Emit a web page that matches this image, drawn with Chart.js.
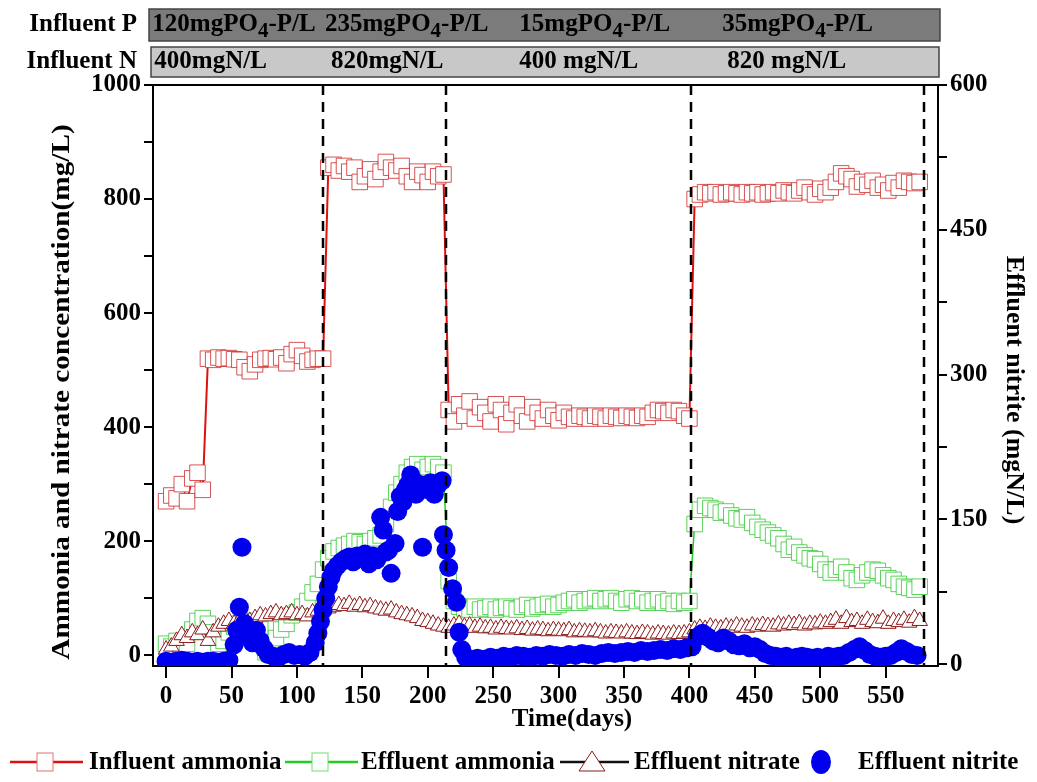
<!DOCTYPE html>
<html>
<head>
<meta charset="utf-8">
<script src="https://cdn.jsdelivr.net/npm/chart.js@4.4.1/dist/chart.umd.min.js"></script>
<style>
  html, body { margin: 0; padding: 0; background: #fff; }
  canvas { display: block; }
</style>
</head>
<body>
<canvas id="reactorChart" width="1037" height="782"></canvas>
<script>
// sampling days shared by the ammonia / nitrate series
var days = [
  0, 4, 8, 12, 16, 20, 24, 28, 32, 36,
  40, 44, 48, 52, 56, 60, 64, 68, 72, 76,
  80, 84, 88, 92, 96, 100, 104, 108, 112, 116,
  120, 124, 128, 132, 136, 140, 144, 148, 152, 156,
  160, 164, 168, 172, 176, 180, 184, 188, 192, 196,
  200, 204, 208, 212, 216, 220, 224, 228, 232, 236,
  240, 244, 248, 252, 256, 260, 264, 268, 272, 276,
  280, 284, 288, 292, 296, 300, 304, 308, 312, 316,
  320, 324, 328, 332, 336, 340, 344, 348, 352, 356,
  360, 364, 368, 372, 376, 380, 384, 388, 392, 396,
  400, 404, 408, 412, 416, 420, 424, 428, 432, 436,
  440, 444, 448, 452, 456, 460, 464, 468, 472, 476,
  480, 484, 488, 492, 496, 500, 504, 508, 512, 516,
  520, 524, 528, 532, 536, 540, 544, 548, 552, 556,
  560, 564, 568, 572, 576
];

var influentAmmonia = [
  270, 280, 275, 300, 270, 310, 320, 290, 520, 518,
  522, 520, 521, 519, 518, 505, 498, 510, 518, 520,
  521, 519, 522, 512, 528, 535, 525, 515, 518, 520,
  520, 855, 860, 850, 858, 848, 855, 830, 840, 852,
  835, 848, 865, 855, 850, 858, 840, 830, 848, 842,
  830, 848, 840, 843, 430, 410, 440, 420, 445, 415,
  435, 425, 410, 440, 430, 405, 425, 440, 420, 410,
  435, 425, 415, 430, 420, 412, 425, 418, 415, 420,
  418, 415, 420, 418, 415, 420, 418, 416, 420, 418,
  416, 420, 418, 425, 430, 428, 425, 430, 428, 420,
  415, 800, 808, 812, 810, 812, 808, 810, 812, 810,
  808, 812, 810, 812, 808, 810, 812, 810, 815, 812,
  810, 815, 820, 812, 808, 818, 812, 820, 830, 845,
  840, 835, 822, 830, 825, 832, 820, 825, 815, 828,
  820, 832, 830, 828, 830
];

var effluentAmmonia = [
  20, 15, 25, 10, 20, 45, 60, 65, 55, 40,
  20, 25, 40, 50, 55, 50, 60, 55, 45, 5,
  10, 30, 45, 55, 70, 75, 85, 95, 110, 125,
  150, 170, 182, 188, 192, 195, 200, 198, 195, 200,
  205, 210, 230, 260, 285, 300, 320, 330, 335, 325,
  330, 335, 330, 320, 130, 95, 85, 82, 80, 85,
  80, 82, 85, 80, 83, 85, 82, 80, 85, 88,
  82, 85, 88, 90, 85, 88, 92, 95, 98, 92,
  95, 98, 100, 95, 98, 100, 95, 92, 98, 100,
  95, 98, 92, 95, 98, 92, 95, 90, 95, 92,
  95, 230, 255, 262, 258, 255, 250, 252, 245, 240,
  238, 242, 232, 225, 220, 215, 210, 205, 195, 185,
  190, 180, 175, 170, 168, 160, 150, 145, 150, 155,
  145, 135, 132, 140, 145, 150, 148, 140, 135, 132,
  125, 120, 118, 115, 120
];

var effluentNitrate = [
  10, 15, 25, 35, 30, 40, 35, 45, 25, 40,
  50, 55, 60, 55, 60, 65, 60, 65, 70, 68,
  72, 75, 70, 72, 75, 70, 72, 68, 75, 78,
  80, 82, 85, 88, 86, 90, 85, 88, 84, 86,
  82, 80, 78, 80, 75, 72, 70, 68, 65, 60,
  58, 55, 52, 50, 48, 52, 55, 50, 52, 48,
  50, 47, 48, 45, 48, 46, 45, 47, 44, 46,
  43, 45, 44, 42, 44, 43, 42, 44, 40, 42,
  41, 40, 42, 40, 38, 40, 39, 38, 40, 38,
  37, 39, 38, 36, 38, 37, 36, 38, 37, 38,
  40, 45, 48, 46, 50, 48, 47, 50, 48, 52,
  50, 48, 52, 50, 53, 51, 50, 54, 52, 55,
  53, 56, 52, 55, 54, 57, 55, 58, 62, 55,
  65, 58, 60, 55, 62, 58, 56, 64, 55, 60,
  58, 62, 57, 65, 60
];

// effluent nitrite is on its own sampling days (right axis)
var nitriteDays = [
  0, 4, 8, 12, 16, 20, 24, 28, 32, 36, 40, 44, 48,
  52, 54, 56, 58, 60, 63, 66, 69, 72, 75, 78, 82, 86, 90, 94, 98,
  102, 106, 110, 114, 116, 118, 120, 122, 124, 126, 128,
  131, 134, 137, 140, 143, 146, 149, 152, 155, 158, 161,
  164, 166, 168, 170, 172, 175, 177, 179, 181, 183, 185, 187, 189, 191,
  194, 196, 199, 202, 205, 208, 211, 212, 214, 216, 219, 222, 224, 226, 229,
  233, 238, 243, 248, 253, 258, 263, 268, 273, 278, 283, 288, 293, 298,
  303, 308, 313, 318, 323, 328, 333, 338, 343, 348, 353, 358, 363, 368,
  373, 378, 383, 388, 393, 398, 402, 406, 410, 414, 418, 422, 426, 430,
  434, 438, 442, 446, 450, 454, 458, 462, 466, 470, 474, 478, 482, 486,
  490, 494, 498, 502, 506, 510, 514, 518, 522, 526, 530, 534, 538, 542,
  546, 550, 554, 558, 562, 566, 570, 574
];
var effluentNitrite = [
  3, 2, 3, 4, 3, 2, 3, 2, 3, 3, 2, 3, 4,
  20, 35, 59, 121, 42, 28, 22, 35, 24, 16, 10, 8, 7, 10, 12, 9,
  10, 8, 12, 22, 32, 44, 56, 68, 80, 90, 97,
  102, 106, 109, 111, 106, 112, 110, 114, 104, 112, 108,
  152, 139, 116, 118, 94, 125, 158, 174, 168, 181, 186, 196, 190, 176,
  186, 121, 181, 188, 176, 186, 190, 134, 118, 100, 78, 64, 33, 15, 7,
  5, 6, 5, 7, 6, 8, 7, 9, 8, 7, 9, 8, 10, 9,
  8, 10, 9, 11, 10, 9, 11, 12, 11, 12, 13, 12, 14, 13,
  14, 15, 14, 16, 15, 17, 18, 28, 32, 28, 24, 22, 27, 24,
  20, 19, 21, 17, 18, 15, 11, 9, 8, 7, 8, 6, 7, 8,
  7, 6, 7, 6, 8, 7, 8, 9, 12, 15, 18, 14, 10, 8,
  7, 8, 9, 12, 16, 13, 10, 9
];

var xTicks = [0, 50, 100, 150, 200, 250, 300, 350, 400, 450, 500, 550];
var leftTicks = [0, 100, 200, 300, 400, 500, 600, 700, 800, 900, 1000];
var rightTicks = [0, 75, 150, 225, 300, 375, 450, 525, 600];

// phase boundaries (dashed lines) and the influent conditions above the plot
var phaseDays = [120, 214, 401, 579];
var influentP = [['120mgPO', '4', '-P/L'], ['235mgPO', '4', '-P/L'], ['15mgPO', '4', '-P/L'], ['35mgPO', '4', '-P/L']];
var influentN = ['400mgN/L', '820mgN/L', '400 mgN/L', '820 mgN/L'];
var legendLabels = ['Influent ammonia', 'Effluent ammonia', 'Effluent nitrate', 'Effluent nitrite'];

var SERIF = '"Liberation Serif", "Times New Roman", serif';
function bold(size) { return 'bold ' + size + 'px ' + SERIF; }

function toPoints(xs, ys) {
  return xs.map(function(x, i) { return { x: x, y: ys[i] }; });
}

// vertical axis titles, slightly stretched along the text like the original
function verticalTitle(ctx, text, x, y, rot, stretch) {
  ctx.save();
  ctx.translate(x, y);
  ctx.rotate(rot);
  ctx.scale(stretch, 1);
  ctx.textAlign = 'center';
  ctx.textBaseline = 'middle';
  ctx.fillText(text, 0, 0);
  ctx.restore();
}

var decorations = {
  id: 'decorations',
  afterDatasetsDraw: function(chart) {
    var ctx = chart.ctx, area = chart.chartArea, xs = chart.scales.x;
    ctx.save();
    ctx.strokeStyle = '#000';
    ctx.lineWidth = 2.5;
    ctx.setLineDash([10, 7]);
    phaseDays.forEach(function(d) {
      var px = Math.round(xs.getPixelForValue(d));
      ctx.beginPath();
      ctx.moveTo(px, area.top);
      ctx.lineTo(px, area.bottom);
      ctx.stroke();
    });
    ctx.setLineDash([]);
    ctx.lineWidth = 2;
    ctx.beginPath();
    ctx.moveTo(area.left, area.top);
    ctx.lineTo(area.right, area.top);
    ctx.stroke();
    ctx.restore();
  },
  afterDraw: function(chart) {
    var ctx = chart.ctx, area = chart.chartArea, xs = chart.scales.x;
    ctx.save();

    // influent condition boxes
    ctx.lineWidth = 1.5;
    ctx.fillStyle = '#7b7b7b';
    ctx.strokeStyle = '#444';
    ctx.fillRect(area.left - 4, 9, area.right - area.left + 6, 32);
    ctx.strokeRect(area.left - 4, 9, area.right - area.left + 6, 32);
    ctx.fillStyle = '#c8c8c8';
    ctx.fillRect(area.left - 2, 47, area.right - area.left + 3, 30);
    ctx.strokeRect(area.left - 2, 47, area.right - area.left + 3, 30);

    ctx.fillStyle = '#000';
    ctx.textBaseline = 'alphabetic';
    ctx.textAlign = 'right';
    ctx.font = bold(25);
    ctx.fillText('Influent P', 137, 31);
    ctx.fillText('Influent N', 137, 68);

    ctx.textAlign = 'left';
    var pAt = [-10.5, 121.5, 270, 425];
    influentP.forEach(function(parts, i) {
      var px = xs.getPixelForValue(pAt[i]);
      ctx.font = bold(25);
      ctx.fillText(parts[0], px, 31);
      px += ctx.measureText(parts[0]).width;
      ctx.font = bold(21);
      ctx.fillText(parts[1], px, 37);
      px += ctx.measureText(parts[1]).width;
      ctx.font = bold(25);
      ctx.fillText(parts[2], px, 31);
    });
    var nAt = [-9, 126, 270, 429];
    ctx.font = bold(25);
    influentN.forEach(function(t, i) {
      ctx.fillText(t, xs.getPixelForValue(nAt[i]), 68);
    });

    // axis titles
    ctx.font = bold(25);
    verticalTitle(ctx, 'Ammonia and nitrate concentration(mg/L)', 63, 392, -Math.PI / 2, 1.17);
    verticalTitle(ctx, 'Effluent nitrite (mgN/L)', 1013, 390, Math.PI / 2, 1.04);
    ctx.textAlign = 'center';
    ctx.textBaseline = 'middle';
    ctx.fillText('Time(days)', 572, 720);

    // legend row
    var ly = 762;
    ctx.lineWidth = 2.5;
    function seg(x1, x2, color) {
      ctx.strokeStyle = color;
      ctx.beginPath(); ctx.moveTo(x1, ly); ctx.lineTo(x2, ly); ctx.stroke();
    }
    seg(10, 83, '#e01010');
    seg(285, 358, '#22cc22');
    seg(560, 629, '#111');
    ctx.lineWidth = 1;
    ctx.fillStyle = '#fff';
    ctx.strokeStyle = '#e07070';
    ctx.fillRect(37, ly - 9, 16, 18); ctx.strokeRect(37, ly - 9, 16, 18);
    ctx.strokeStyle = '#70dd70';
    ctx.fillRect(312, ly - 9, 16, 18); ctx.strokeRect(312, ly - 9, 16, 18);
    ctx.strokeStyle = '#8b1a1a';
    ctx.beginPath();
    ctx.moveTo(592, ly - 11); ctx.lineTo(605, ly + 9); ctx.lineTo(579, ly + 9); ctx.closePath();
    ctx.fill(); ctx.stroke();
    ctx.fillStyle = '#0000ee';
    ctx.beginPath(); ctx.ellipse(821, ly, 10, 12, 0, 0, Math.PI * 2); ctx.fill();

    ctx.fillStyle = '#000';
    ctx.font = bold(25);
    ctx.textAlign = 'left';
    ctx.textBaseline = 'middle';
    var lx = [89, 361, 634, 858];
    legendLabels.forEach(function(t, i) { ctx.fillText(t, lx[i], ly + 1); });
    ctx.restore();
  }
};

var tickFont = { family: SERIF, size: 25, weight: 'bold' };
var axisGrid = { drawOnChartArea: false, color: '#000', lineWidth: 2, tickLength: 9 };
var axisBorder = { display: true, color: '#000', width: 2 };

var ctx = document.getElementById('reactorChart').getContext('2d');
var reactorChart = new Chart(ctx, {
  type: 'line',
  data: {
    datasets: [{
      label: legendLabels[0],
      data: toPoints(days, influentAmmonia),
      yAxisID: 'y',
      borderColor: '#e01010',
      borderWidth: 2,
      pointStyle: 'rect',
      pointRadius: 11,
      pointBorderWidth: 1,
      pointBorderColor: 'rgba(205, 40, 40, 0.8)',
      pointBackgroundColor: '#fff',
      order: 3
    }, {
      label: legendLabels[1],
      data: toPoints(days, effluentAmmonia),
      yAxisID: 'y',
      borderColor: '#22cc22',
      borderWidth: 1.5,
      pointStyle: 'rect',
      pointRadius: 11,
      pointBorderWidth: 1,
      pointBorderColor: 'rgba(50, 200, 50, 0.8)',
      pointBackgroundColor: '#fff',
      order: 2
    }, {
      label: legendLabels[2],
      data: toPoints(days, effluentNitrate),
      yAxisID: 'y',
      borderColor: '#4a0000',
      borderWidth: 1,
      pointStyle: 'triangle',
      pointRadius: 9,
      pointBorderWidth: 1,
      pointBorderColor: '#8b1a1a',
      pointBackgroundColor: '#fff',
      order: 1
    }, {
      label: legendLabels[3],
      data: toPoints(nitriteDays, effluentNitrite),
      yAxisID: 'y2',
      showLine: false,
      pointStyle: 'circle',
      pointRadius: 9.5,
      pointBorderWidth: 0,
      pointBackgroundColor: '#0000ee',
      pointBorderColor: '#0000ee',
      order: 0
    }]
  },
  options: {
    responsive: false,
    animation: false,
    devicePixelRatio: 1,
    layout: { padding: { top: 85, left: 0, right: 0, bottom: 0 } },
    elements: { line: { tension: 0 } },
    plugins: { legend: { display: false }, tooltip: { enabled: false } },
    scales: {
      x: {
        type: 'linear',
        min: -10,
        max: 590,
        afterFit: function(s) { s.height = 116; },
        afterBuildTicks: function(s) { s.ticks = xTicks.map(function(v) { return { value: v }; }); },
        ticks: { font: tickFont, color: '#000', padding: 4, maxRotation: 0, autoSkip: false },
        grid: Object.assign({}, axisGrid, { tickLength: 12 }),
        border: axisBorder
      },
      y: {
        position: 'left',
        min: -19,
        max: 1000,
        afterFit: function(s) { s.width = 153; },
        afterBuildTicks: function(s) { s.ticks = leftTicks.map(function(v) { return { value: v }; }); },
        ticks: {
          font: tickFont, color: '#000', padding: 3, autoSkip: false,
          callback: function(v) { return v % 200 === 0 ? v : ''; }
        },
        grid: axisGrid,
        border: axisBorder
      },
      y2: {
        position: 'right',
        min: -2,
        max: 600,
        afterFit: function(s) { s.width = 99; },
        afterBuildTicks: function(s) { s.ticks = rightTicks.map(function(v) { return { value: v }; }); },
        ticks: {
          font: tickFont, color: '#000', padding: 3, autoSkip: false,
          callback: function(v) { return v % 150 === 0 ? v : ''; }
        },
        grid: axisGrid,
        border: axisBorder
      }
    }
  },
  plugins: [decorations]
});
</script>
</body>
</html>
